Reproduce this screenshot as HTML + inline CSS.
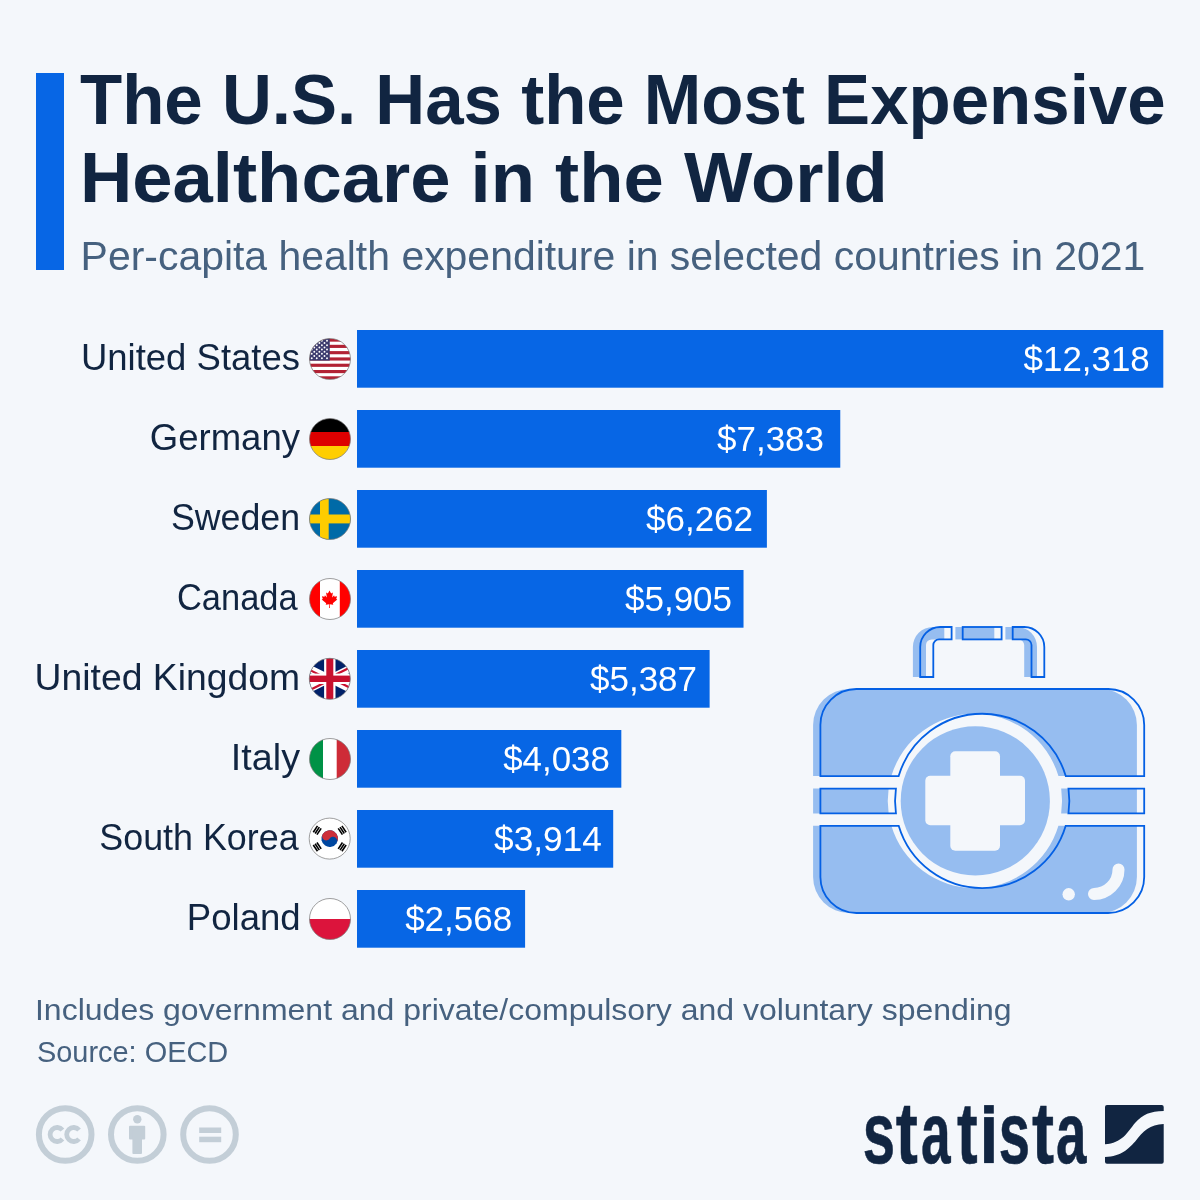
<!DOCTYPE html>
<html><head><meta charset="utf-8"><style>
html,body{margin:0;padding:0;background:#f4f7fb;}
svg{display:block;will-change:transform;}
text{font-family:"Liberation Sans",sans-serif;}
</style></head><body>
<svg width="1200" height="1200" viewBox="0 0 1200 1200">
<defs>
<clipPath id="fc"><circle cx="0" cy="0" r="20.5"/></clipPath>
</defs>
<rect x="0" y="0" width="1200" height="1200" fill="#f4f7fb"/>
<rect x="36" y="73" width="28" height="197" fill="#0766e5"/>
<text x="80.00" y="124.00" font-size="71" font-weight="700" fill="#112541" text-anchor="start" textLength="1085.61" lengthAdjust="spacingAndGlyphs">The U.S. Has the Most Expensive</text>
<text x="79.96" y="202.00" font-size="71" font-weight="700" fill="#112541" text-anchor="start" textLength="807.87" lengthAdjust="spacingAndGlyphs">Healthcare in the World</text>
<text x="80.60" y="269.70" font-size="41.5" fill="#46617f" text-anchor="start" textLength="1064.80" lengthAdjust="spacingAndGlyphs">Per-capita health expenditure in selected countries in 2021</text>
<rect x="357" y="330" width="806.30" height="57.7" fill="#0766e5"/>
<rect x="357" y="410" width="483.27" height="57.7" fill="#0766e5"/>
<rect x="357" y="490" width="409.89" height="57.7" fill="#0766e5"/>
<rect x="357" y="570" width="386.52" height="57.7" fill="#0766e5"/>
<rect x="357" y="650" width="352.62" height="57.7" fill="#0766e5"/>
<rect x="357" y="730" width="264.32" height="57.7" fill="#0766e5"/>
<rect x="357" y="810" width="256.20" height="57.7" fill="#0766e5"/>
<rect x="357" y="890" width="168.09" height="57.7" fill="#0766e5"/>
<text x="1023.58" y="371.40" font-size="35" fill="#ffffff" text-anchor="start" textLength="126.22" lengthAdjust="spacingAndGlyphs">$12,318</text>
<text x="80.94" y="370.00" font-size="37" fill="#112541" text-anchor="start" textLength="219.08" lengthAdjust="spacingAndGlyphs">United States</text>
<text x="716.97" y="451.40" font-size="35" fill="#ffffff" text-anchor="start" textLength="107.07" lengthAdjust="spacingAndGlyphs">$7,383</text>
<text x="149.78" y="450.00" font-size="37" fill="#112541" text-anchor="start" textLength="150.22" lengthAdjust="spacingAndGlyphs">Germany</text>
<text x="645.98" y="531.40" font-size="35" fill="#ffffff" text-anchor="start" textLength="107.09" lengthAdjust="spacingAndGlyphs">$6,262</text>
<text x="170.93" y="530.00" font-size="37" fill="#112541" text-anchor="start" textLength="129.13" lengthAdjust="spacingAndGlyphs">Sweden</text>
<text x="624.97" y="611.40" font-size="35" fill="#ffffff" text-anchor="start" textLength="107.10" lengthAdjust="spacingAndGlyphs">$5,905</text>
<text x="176.97" y="610.00" font-size="37" fill="#112541" text-anchor="start" textLength="120.62" lengthAdjust="spacingAndGlyphs">Canada</text>
<text x="589.97" y="691.40" font-size="35" fill="#ffffff" text-anchor="start" textLength="107.11" lengthAdjust="spacingAndGlyphs">$5,387</text>
<text x="34.57" y="690.00" font-size="37" fill="#112541" text-anchor="start" textLength="265.48" lengthAdjust="spacingAndGlyphs">United Kingdom</text>
<text x="503.15" y="771.40" font-size="35" fill="#ffffff" text-anchor="start" textLength="106.69" lengthAdjust="spacingAndGlyphs">$4,038</text>
<text x="230.80" y="770.00" font-size="37" fill="#112541" text-anchor="start" textLength="69.20" lengthAdjust="spacingAndGlyphs">Italy</text>
<text x="494.13" y="851.40" font-size="35" fill="#ffffff" text-anchor="start" textLength="107.72" lengthAdjust="spacingAndGlyphs">$3,914</text>
<text x="99.33" y="850.00" font-size="37" fill="#112541" text-anchor="start" textLength="199.27" lengthAdjust="spacingAndGlyphs">South Korea</text>
<text x="405.15" y="931.40" font-size="35" fill="#ffffff" text-anchor="start" textLength="107.09" lengthAdjust="spacingAndGlyphs">$2,568</text>
<text x="186.85" y="930.00" font-size="37" fill="#112541" text-anchor="start" textLength="113.84" lengthAdjust="spacingAndGlyphs">Poland</text>
<g id="flags">
<!-- US -->
<g transform="translate(330 359)">
<g clip-path="url(#fc)">
<rect x="-21" y="-21" width="42" height="42" fill="#ffffff"/>
<g fill="#b22234">
<rect x="-21" y="-20.5" width="42" height="3.15"/>
<rect x="-21" y="-14.2" width="42" height="3.15"/>
<rect x="-21" y="-7.9" width="42" height="3.15"/>
<rect x="-21" y="-1.6" width="42" height="3.15"/>
<rect x="-21" y="4.7" width="42" height="3.15"/>
<rect x="-21" y="11.0" width="42" height="3.15"/>
<rect x="-21" y="17.3" width="42" height="3.2"/>
</g>
<rect x="-21" y="-21" width="20.75" height="22.6" fill="#3c3b6e"/>
<g fill="#ffffff">
<circle cx="-18.25" cy="-18.25" r="0.95"/><circle cx="-13.25" cy="-18.25" r="0.95"/><circle cx="-8.1" cy="-18.25" r="0.95"/><circle cx="-3" cy="-18.25" r="0.95"/><circle cx="-15.7" cy="-16" r="0.95"/><circle cx="-10.6" cy="-16" r="0.95"/><circle cx="-5.5" cy="-16" r="0.95"/><circle cx="-18.25" cy="-13.75" r="0.95"/><circle cx="-13.25" cy="-13.75" r="0.95"/><circle cx="-8.1" cy="-13.75" r="0.95"/><circle cx="-3" cy="-13.75" r="0.95"/><circle cx="-15.7" cy="-11.5" r="0.95"/><circle cx="-10.6" cy="-11.5" r="0.95"/><circle cx="-5.5" cy="-11.5" r="0.95"/><circle cx="-18.25" cy="-9.5" r="0.95"/><circle cx="-13.25" cy="-9.5" r="0.95"/><circle cx="-8.1" cy="-9.5" r="0.95"/><circle cx="-3" cy="-9.5" r="0.95"/><circle cx="-15.7" cy="-7.25" r="0.95"/><circle cx="-10.6" cy="-7.25" r="0.95"/><circle cx="-5.5" cy="-7.25" r="0.95"/><circle cx="-18.25" cy="-5.25" r="0.95"/><circle cx="-13.25" cy="-5.25" r="0.95"/><circle cx="-8.1" cy="-5.25" r="0.95"/><circle cx="-3" cy="-5.25" r="0.95"/><circle cx="-15.7" cy="-3" r="0.95"/><circle cx="-10.6" cy="-3" r="0.95"/><circle cx="-5.5" cy="-3" r="0.95"/><circle cx="-18.25" cy="-0.75" r="0.95"/><circle cx="-13.25" cy="-0.75" r="0.95"/><circle cx="-8.1" cy="-0.75" r="0.95"/><circle cx="-3" cy="-0.75" r="0.95"/>
</g>
</g>
<circle r="20.5" fill="none" stroke="#777" stroke-width="0.7"/>
</g>
<!-- Germany -->
<g transform="translate(330 439)">
<g clip-path="url(#fc)">
<rect x="-21" y="-21" width="42" height="14" fill="#000000"/>
<rect x="-21" y="-7" width="42" height="14" fill="#dd0000"/>
<rect x="-21" y="7" width="42" height="14" fill="#ffce00"/>
</g>
<circle r="20.5" fill="none" stroke="#777" stroke-width="0.7"/>
</g>
<!-- Sweden -->
<g transform="translate(330 519)">
<g clip-path="url(#fc)">
<rect x="-21" y="-21" width="42" height="42" fill="#006aa7"/>
<rect x="-10" y="-21" width="8.7" height="42" fill="#fecc00"/>
<rect x="-21" y="-4.5" width="42" height="8.9" fill="#fecc00"/>
</g>
<circle r="20.5" fill="none" stroke="#777" stroke-width="0.7"/>
</g>
<!-- Canada -->
<g transform="translate(330 599)">
<g clip-path="url(#fc)">
<rect x="-21" y="-21" width="42" height="42" fill="#ffffff"/>
<rect x="-21" y="-21" width="11" height="42" fill="#ff0000"/>
<rect x="9.8" y="-21" width="11.2" height="42" fill="#ff0000"/>
<path fill="#ff0000" transform="translate(-0.5 0)" d="M0,-8.6 L-1.6,-5.6 L-3.4,-6.5 L-2.6,-1.6 L-4.6,-3.7 L-5,-2.3 L-7.6,-2.8 L-6.7,0 L-7.8,0.6 L-3.3,4.3 L-3.8,5.8 L-0.3,5.3 L-0.4,9 L0.4,9 L0.3,5.3 L3.8,5.8 L3.3,4.3 L7.8,0.6 L6.7,0 L7.6,-2.8 L5,-2.3 L4.6,-3.7 L2.6,-1.6 L3.4,-6.5 L1.6,-5.6 Z"/>
</g>
<circle r="20.5" fill="none" stroke="#777" stroke-width="0.7"/>
</g>
<!-- UK -->
<g transform="translate(329.8 678.8)">
<g clip-path="url(#fc)">
<rect x="-21" y="-21" width="42" height="42" fill="#012169"/>
<path d="M-50,-25 L50,25 M50,-25 L-50,25" stroke="#ffffff" stroke-width="7.4"/>
<path d="M-50.49,-24.02 L-0.49,0.98" stroke="#c8102e" stroke-width="2.20"/>
<path d="M0.49,-0.98 L50.49,24.02" stroke="#c8102e" stroke-width="2.20"/>
<path d="M-0.49,-0.98 L49.51,-25.98" stroke="#c8102e" stroke-width="2.20"/>
<path d="M-49.51,25.98 L0.49,0.98" stroke="#c8102e" stroke-width="2.20"/>
<rect x="-5.7" y="-21" width="11.4" height="42" fill="#ffffff"/>
<rect x="-21" y="-5.2" width="42" height="10.4" fill="#ffffff"/>
<rect x="-3.5" y="-21" width="7" height="42" fill="#c8102e"/>
<rect x="-21" y="-3.2" width="42" height="6.4" fill="#c8102e"/>
</g>
<circle r="20.5" fill="none" stroke="#777" stroke-width="0.7"/>
</g>
<!-- Italy -->
<g transform="translate(330 759)">
<g clip-path="url(#fc)">
<rect x="-21" y="-21" width="42" height="42" fill="#ffffff"/>
<rect x="-21" y="-21" width="14" height="42" fill="#009246"/>
<rect x="6.7" y="-21" width="14.3" height="42" fill="#ce2b37"/>
</g>
<circle r="20.5" fill="none" stroke="#777" stroke-width="0.7"/>
</g>
<!-- South Korea -->
<g transform="translate(329.7 838.6)">
<g clip-path="url(#fc)">
<rect x="-21" y="-21" width="42" height="42" fill="#ffffff"/>
</g>
<g transform="rotate(33.7)">
<circle r="8.3" fill="#0047a0"/>
<path d="M-8.3,0 A8.3,8.3 0 0 1 8.3,0 A4.15,4.15 0 0 0 0,0 A4.15,4.15 0 0 1 -8.3,0 Z" fill="#cd2e3a"/>
</g>
<g fill="#000000">
<g transform="rotate(-56.3) translate(0 -15)"><rect x="-3.8" y="-3" width="7.6" height="1.6"/><rect x="-3.8" y="-0.8" width="7.6" height="1.6"/><rect x="-3.8" y="1.4" width="7.6" height="1.6"/></g>
<g transform="rotate(56.3) translate(0 -15)"><rect x="-3.8" y="-3" width="7.6" height="1.6"/><rect x="-3.8" y="-0.8" width="7.6" height="1.6"/><rect x="-3.8" y="1.4" width="7.6" height="1.6"/></g>
<g transform="rotate(123.7) translate(0 -15)"><rect x="-3.8" y="-3" width="7.6" height="1.6"/><rect x="-3.8" y="-0.8" width="7.6" height="1.6"/><rect x="-3.8" y="1.4" width="7.6" height="1.6"/></g>
<g transform="rotate(-123.7) translate(0 -15)"><rect x="-3.8" y="-3" width="7.6" height="1.6"/><rect x="-3.8" y="-0.8" width="7.6" height="1.6"/><rect x="-3.8" y="1.4" width="7.6" height="1.6"/></g>
</g>
<circle r="20.5" fill="none" stroke="#777" stroke-width="0.7"/>
</g>
<!-- Poland -->
<g transform="translate(330 919)">
<g clip-path="url(#fc)">
<rect x="-21" y="-21" width="42" height="21" fill="#ffffff"/>
<rect x="-21" y="0" width="42" height="21" fill="#dc143c"/>
</g>
<circle r="20.5" fill="none" stroke="#777" stroke-width="0.7"/>
</g>
</g>
<g id="kit">
<g transform="translate(-7.3 0)" fill="#96bdf0">
<path d="M820.4,776.1 L820.4,725 A36,36 0 0 1 856.4,689 L1108.2,689 A36,36 0 0 1 1144.2,725 L1144.2,776.1 L1065.75,776.1 A87.15,87.15 0 0 0 898.65,776.1 Z"/>
<path d="M820.4,825.8 L820.4,877 A36,36 0 0 0 856.4,913 L1108.2,913 A36,36 0 0 0 1144.2,877 L1144.2,825.8 L1065.72,825.8 A87.15,87.15 0 0 1 898.68,825.8 Z"/>
<path d="M820.4,788.6 L895.92,788.6 A87.15,87.15 0 0 0 895.95,813.4 L820.4,813.4 Z"/>
<path d="M1144.2,788.6 L1068.48,788.6 A87.15,87.15 0 0 1 1068.45,813.4 L1144.2,813.4 Z"/>
<path d="M920.2,677 L920.2,647 A20,20 0 0 1 940.2,627 L951.6,627 L951.6,639.4 L939,639.4 A5.7,5.7 0 0 0 933.3,645.1 L933.3,677 Z"/>
<path d="M1044.3,677 L1044.3,647 A20,20 0 0 0 1024.3,627 L1012.7,627 L1012.7,639.4 L1025.3,639.4 A5.7,5.7 0 0 1 1031.5,645.1 L1031.5,677 Z"/>
<rect x="962.7" y="627" width="38.9" height="12.4"/>
<circle cx="982.6" cy="800.9" r="74.6"/>
</g>
<g fill="#f4f7fb">
<rect x="950.3" y="751.3" width="49.7" height="99.5" rx="5"/>
<rect x="925.3" y="775.8" width="99.7" height="49.5" rx="5"/>
<circle cx="1068.7" cy="894.3" r="6.2"/>
</g>
<path d="M1094,894 A24.5,24.5 0 0 0 1118.5,869.5" fill="none" stroke="#f4f7fb" stroke-width="12" stroke-linecap="round"/>
<g fill="none" stroke="#0460e4" stroke-width="1.8">
<path d="M820.4,776.1 L820.4,725 A36,36 0 0 1 856.4,689 L1108.2,689 A36,36 0 0 1 1144.2,725 L1144.2,776.1 L1065.75,776.1 A87.15,87.15 0 0 0 898.65,776.1 Z"/>
<path d="M820.4,825.8 L820.4,877 A36,36 0 0 0 856.4,913 L1108.2,913 A36,36 0 0 0 1144.2,877 L1144.2,825.8 L1065.72,825.8 A87.15,87.15 0 0 1 898.68,825.8 Z"/>
<path d="M820.4,788.6 L895.92,788.6 A87.15,87.15 0 0 0 895.95,813.4 L820.4,813.4 Z"/>
<path d="M1144.2,788.6 L1068.48,788.6 A87.15,87.15 0 0 1 1068.45,813.4 L1144.2,813.4 Z"/>
<path d="M920.2,677 L920.2,647 A20,20 0 0 1 940.2,627 L951.6,627 L951.6,639.4 L939,639.4 A5.7,5.7 0 0 0 933.3,645.1 L933.3,677 Z"/>
<path d="M1044.3,677 L1044.3,647 A20,20 0 0 0 1024.3,627 L1012.7,627 L1012.7,639.4 L1025.3,639.4 A5.7,5.7 0 0 1 1031.5,645.1 L1031.5,677 Z"/>
<rect x="962.7" y="627" width="38.9" height="12.4"/>
</g>
</g>
<text x="34.99" y="1020.00" font-size="30" fill="#46617f" text-anchor="start" textLength="976.62" lengthAdjust="spacingAndGlyphs">Includes government and private/compulsory and voluntary spending</text>
<text x="36.98" y="1061.70" font-size="30" fill="#46617f" text-anchor="start" textLength="191.22" lengthAdjust="spacingAndGlyphs">Source: OECD</text>
<g id="cc" fill="none" stroke="#c3ced7" stroke-width="6">
<circle cx="65.2" cy="1134.5" r="26.3"/>
<circle cx="137.3" cy="1134.5" r="26.3"/>
<circle cx="209.5" cy="1134.5" r="26.3"/>
</g>
<g fill="#c3ced7">
<path d="M62.46,1130.00 A7.0,7.0 0 1 0 62.46,1139.00 M79.06,1130.00 A7.0,7.0 0 1 0 79.06,1139.00" fill="none" stroke="#c3ced7" stroke-width="4.8"/>
<circle cx="137.3" cy="1119.3" r="4.2"/>
<rect x="129" y="1125.7" width="16.2" height="13.7" rx="1"/>
<rect x="132.4" y="1130" width="9.6" height="24.1" rx="1"/>
<rect x="199.2" y="1127.5" width="22" height="5.5"/>
<rect x="199.2" y="1136.7" width="22" height="5.5"/>
</g>
<g id="logo" fill="#112541" stroke="#112541" stroke-width="0.6" font-size="87" font-weight="700">
<text transform="translate(862.81 1162.8) scale(0.6685 1)">s</text>
<text transform="translate(895.86 1162.8) scale(0.7630 1)">t</text>
<text transform="translate(921.01 1162.8) scale(0.6118 1)">a</text>
<text transform="translate(957.00 1162.8) scale(0.7130 1)">t</text>
<text transform="translate(998.87 1162.8) scale(0.6465 1)">s</text>
<text transform="translate(1032.05 1162.8) scale(0.7612 1)">t</text>
<text transform="translate(1055.97 1162.8) scale(0.6292 1)">a</text>
<rect x="984.1" y="1105.1" width="9.7" height="8.5" stroke="none"/><rect x="984.1" y="1117.1" width="9.7" height="46" stroke="none"/>
</g>
<g transform="translate(1105 1105)">
<path fill="#112541" d="M0,2 Q0,0 2,0 L56.7,0 Q58.7,0 58.7,2 L58.7,6 C45,6.5 38,9 30,18 C22,28 17,38 0,39.3 Z"/>
<path fill="#112541" d="M0,52 C17,51 23,44 30,36.7 C38,26 45,19.5 58.7,19 L58.7,56.7 Q58.7,58.7 56.7,58.7 L2,58.7 Q0,58.7 0,56.7 Z"/>
</g>
</svg>
</body></html>
